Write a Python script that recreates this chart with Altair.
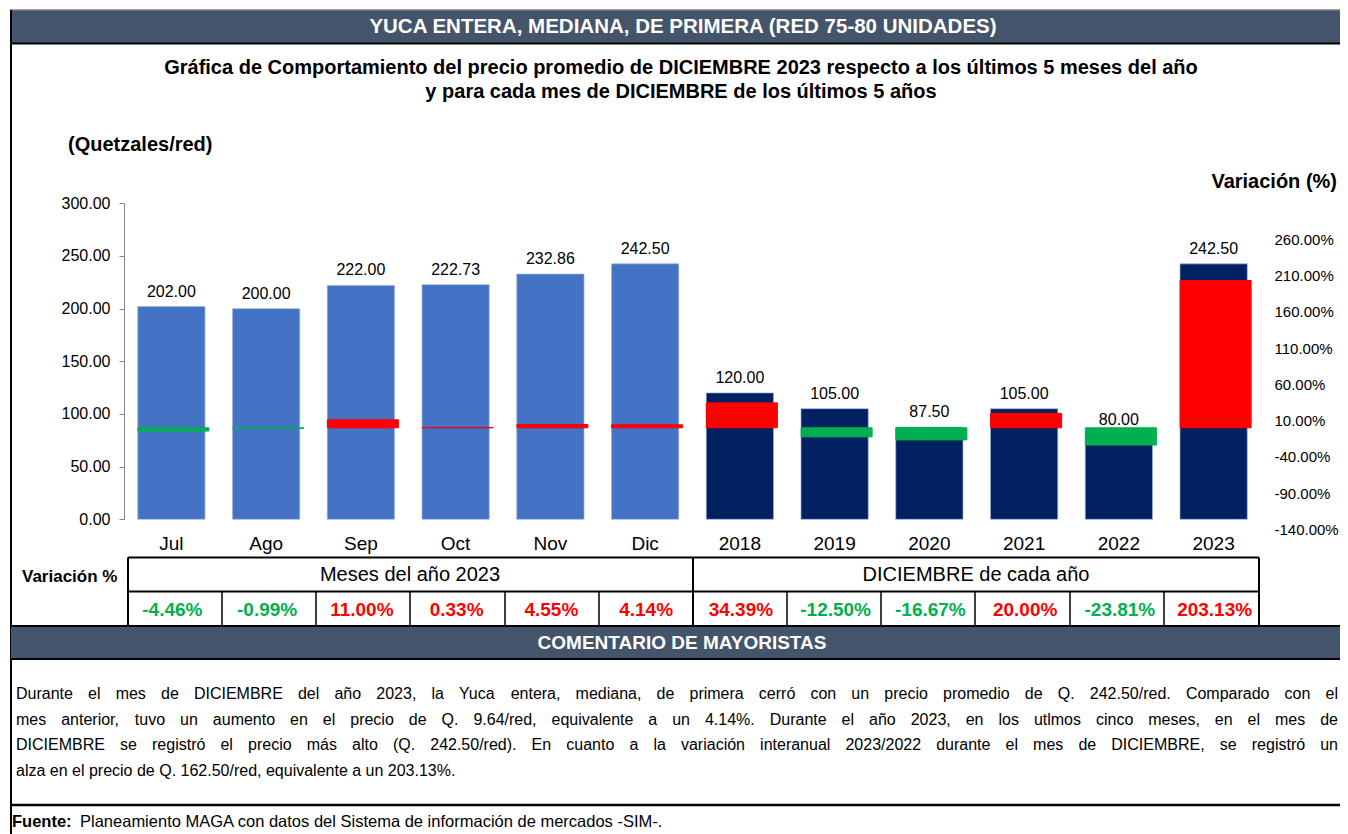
import altair as alt
import pandas as pd

FONT = "Liberation Sans"
OFF = 8          # page margin: reference pixel -> canvas pixel
W, H = 1332, 826

# ---------------- data ----------------
categories = ["Jul", "Ago", "Sep", "Oct", "Nov", "Dic",
              "2018", "2019", "2020", "2021", "2022", "2023"]
groups = ["mes"] * 6 + ["anio"] * 6
prices = [202.00, 200.00, 222.00, 222.73, 232.86, 242.50,
          120.00, 105.00, 87.50, 105.00, 80.00, 242.50]
variations = [-4.46, -0.99, 11.00, 0.33, 4.55, 4.14,
              34.39, -12.50, -16.67, 20.00, -23.81, 203.13]
price_ticks = [0, 50, 100, 150, 200, 250, 300]
var_ticks = [-140, -90, -40, 10, 60, 110, 160, 210, 260]

title_main = "YUCA ENTERA, MEDIANA, DE PRIMERA (RED 75-80 UNIDADES)"
subtitle = ["Gráfica de Comportamiento del precio promedio de DICIEMBRE 2023 respecto a los últimos 5 meses del año",
            "y para cada mes de DICIEMBRE de los últimos 5 años"]
comment_lines = [
    "Durante el mes de DICIEMBRE del año 2023, la Yuca entera, mediana, de primera cerró con un precio promedio de Q. 242.50/red. Comparado con el",
    "mes anterior, tuvo un aumento en el precio de Q. 9.64/red, equivalente a un 4.14%. Durante el año 2023, en los utlmos cinco meses, en el mes de",
    "DICIEMBRE se registró el precio más alto (Q. 242.50/red). En cuanto a la variación interanual 2023/2022 durante el mes de DICIEMBRE, se registró un",
    "alza en el precio de Q. 162.50/red, equivalente a un 203.13%.",
]

df = pd.DataFrame({"cat": categories, "grupo": groups, "precio": prices, "var": variations})
df["signo"] = ["pos" if v >= 0 else "neg" for v in variations]


def P(v):
    return v - OFF


one = pd.DataFrame({"k": [0]})

# Arial / Liberation Sans advance widths (1/1000 em), used to justify the comment text
AW = {" ": 278, ",": 278, ".": 278, "/": 278, "(": 333, ")": 333, "%": 889, "-": 333,
      "A": 667, "B": 667, "C": 722, "D": 722, "E": 667, "F": 611, "G": 778, "H": 722, "I": 278,
      "J": 500, "K": 667, "L": 556, "M": 833, "N": 722, "O": 778, "P": 667, "Q": 778, "R": 722,
      "S": 667, "T": 611, "U": 722, "V": 667, "W": 944, "X": 667, "Y": 667, "Z": 611,
      "a": 556, "b": 556, "c": 500, "d": 556, "e": 556, "f": 278, "g": 556, "h": 556, "i": 222,
      "j": 222, "k": 500, "l": 222, "m": 833, "n": 556, "o": 556, "p": 556, "q": 556, "r": 333,
      "s": 500, "t": 278, "u": 556, "v": 500, "w": 722, "x": 500, "y": 500, "z": 500,
      "á": 556, "é": 556, "í": 278, "ó": 556, "ú": 556, "ñ": 556}


def text_w(s, size):
    return sum(AW.get(c, 556) for c in s) / 1000.0 * size


def hline(y, x1, x2, w=2, color="black"):
    return alt.Chart(one).mark_rule(color=color, strokeWidth=w).encode(
        x=alt.value(P(x1)), x2=alt.value(P(x2)), y=alt.value(P(y)), y2=alt.value(P(y)))


def vline(x, y1, y2, w=2, color="black"):
    return alt.Chart(one).mark_rule(color=color, strokeWidth=w).encode(
        x=alt.value(P(x)), x2=alt.value(P(x)), y=alt.value(P(y1)), y2=alt.value(P(y2)))


def box(x1, x2, y1, y2, fill):
    return alt.Chart(one).mark_rect(color=fill).encode(
        x=alt.value(P(x1)), x2=alt.value(P(x2)), y=alt.value(P(y1)), y2=alt.value(P(y2)))


def label(txt, x, y, size, bold=False, align="center", color="black"):
    return alt.Chart(one).mark_text(
        text=txt, fontSize=size, fontWeight="bold" if bold else "normal",
        align=align, baseline="middle", color=color, font=FONT
    ).encode(x=alt.value(P(x)), y=alt.value(P(y)))


MINUS_FIX = "replace(format({v}, '.2f'), '\u2212', '-') + '%'"

# ---------------- scales / encodings ----------------
xenc = alt.X(
    "cat:N", sort=categories,
    scale=alt.Scale(domain=categories, range=[P(124), P(1261)],
                    paddingInner=0.29, paddingOuter=0.145),
    axis=alt.Axis(title=None, labelAngle=0, domain=False, ticks=False, tickSize=0,
                  labelFontSize=19, labelFont=FONT, labelColor="black",
                  labelPadding=15, offset=P(519) - H, orient="bottom", labelFlush=False),
)

yprice = alt.Y(
    "precio:Q",
    scale=alt.Scale(domain=[0, 300], range=[P(519.3), P(203.3)], nice=False),
    axis=alt.Axis(title=None, orient="left", values=price_ticks, format=".2f",
                  grid=False, tickSize=5, tickColor="#868686", domainColor="#868686",
                  labelFontSize=16, labelFont=FONT, labelColor="black",
                  labelPadding=9, offset=-P(124)),
)

price_color = alt.Color("grupo:N", scale=alt.Scale(domain=["mes", "anio"], range=["#4472C4", "#002060"]),
                        legend=None)
sign_scale = alt.Scale(domain=["pos", "neg"], range=["#FF0000", "#00B050"])

base = alt.Chart(df)

price_bars = base.mark_bar(stroke="#9DB4E0", strokeWidth=0.7).encode(
    x=xenc, y=yprice, color=price_color)

price_labels = base.mark_text(baseline="bottom", dy=-7, fontSize=16, font=FONT, color="black").encode(
    x=xenc,
    y=alt.Y("precio:Q", scale=alt.Scale(domain=[0, 300], range=[P(519.3), P(203.3)], nice=False), axis=None),
    text=alt.Text("precio:Q", format=".2f"),
)

var_bars = base.mark_bar(width=71, xOffset=2, strokeWidth=1).encode(
    x=xenc,
    y=alt.Y("var:Q",
            scale=alt.Scale(domain=[-140, 260], range=[P(529.3), P(239.3)], nice=False, zero=False),
            axis=alt.Axis(title=None, orient="right", values=var_ticks,
                          labelExpr=MINUS_FIX.format(v="datum.value"),
                          grid=False, domain=False, ticks=False, tickSize=0,
                          labelFontSize=15, labelFont=FONT, labelColor="black",
                          labelPadding=0, labelAlign="left", offset=P(1274) - W)),
    y2=alt.datum(0),
    color=alt.Color("signo:N", scale=sign_scale, legend=None),
    stroke=alt.Stroke("signo:N", scale=sign_scale, legend=None),
)

table_text = base.transform_calculate(
    lbl=MINUS_FIX.format(v="datum['var']")
).mark_text(fontSize=19, fontWeight="bold", font=FONT, baseline="middle", xOffset=1).encode(
    x=xenc,
    y=alt.value(P(610)),
    text="lbl:N",
    color=alt.Color("signo:N", scale=sign_scale, legend=None),
)

# ---------------- decorations ----------------
HEAD = "#44546A"
deco = [
    box(10, 1350, 10, 43.5, HEAD),
    hline(10, 10, 1350, 1.5, "#7F7F7F"),
    hline(43.5, 10, 1350, 2),
    vline(11, 10, 840, 2),
    box(11, 1350, 626, 659, HEAD),
    hline(557.5, 128, 1259),
    hline(591.5, 128, 1259),
    hline(626, 11, 1350),
    hline(659, 11, 1350),
    vline(128, 557.5, 626),
    vline(693, 557.5, 626),
    vline(1259, 557.5, 626),
    hline(805, 11, 1350, 2.5),
]
for xv in [222, 316, 410, 505, 599, 787, 881, 975, 1070, 1164]:
    deco.append(vline(xv, 591.5, 626, 1.5))

texts = [
    label(title_main, 683, 27, 20.5, bold=True, color="white"),
    label(subtitle[0], 681, 68, 20, bold=True),
    label(subtitle[1], 681, 92, 20, bold=True),
    label("(Quetzales/red)", 68, 145, 20, bold=True, align="left"),
    label("Variación (%)", 1337, 182, 20, bold=True, align="right"),
    label("Variación %", 22, 577, 17, bold=True, align="left"),
    label("Meses del año 2023", 410, 575, 20),
    label("DICIEMBRE de cada año", 976, 575, 20),
    label("COMENTARIO DE MAYORISTAS", 682, 642.5, 19, bold=True, color="white"),
]

# comment: first three lines justified between LEFT and RIGHT, last line left-aligned
CSIZE = 16
LEFT, RIGHT = 16, 1338
for i, (line, yy) in enumerate(zip(comment_lines, [694, 719.5, 745, 771])):
    if i == len(comment_lines) - 1:
        texts.append(label(line, LEFT, yy, CSIZE, align="left"))
        continue
    words = line.split(" ")
    widths = [text_w(w_, CSIZE) for w_ in words]
    gap = (RIGHT - LEFT - sum(widths)) / (len(words) - 1)
    xx = LEFT
    for w_, wd in zip(words, widths):
        texts.append(label(w_, xx, yy, CSIZE, align="left"))
        xx += wd + gap

texts.append(label("Fuente:", 12, 822, 16.5, bold=True, align="left"))
texts.append(label("Planeamiento MAGA con datos del Sistema de información de mercados -SIM-.", 80, 822, 16.5, align="left"))

chart = alt.layer(
    *deco, price_bars, var_bars, price_labels, table_text, *texts
).resolve_scale(
    y="independent", color="independent"
).properties(
    width=W, height=H, padding=0,
    autosize=alt.AutoSizeParams(type="none"),
).configure_view(strokeWidth=0)

chart.save("out.html", embed_options={"renderer": "svg", "actions": False})
